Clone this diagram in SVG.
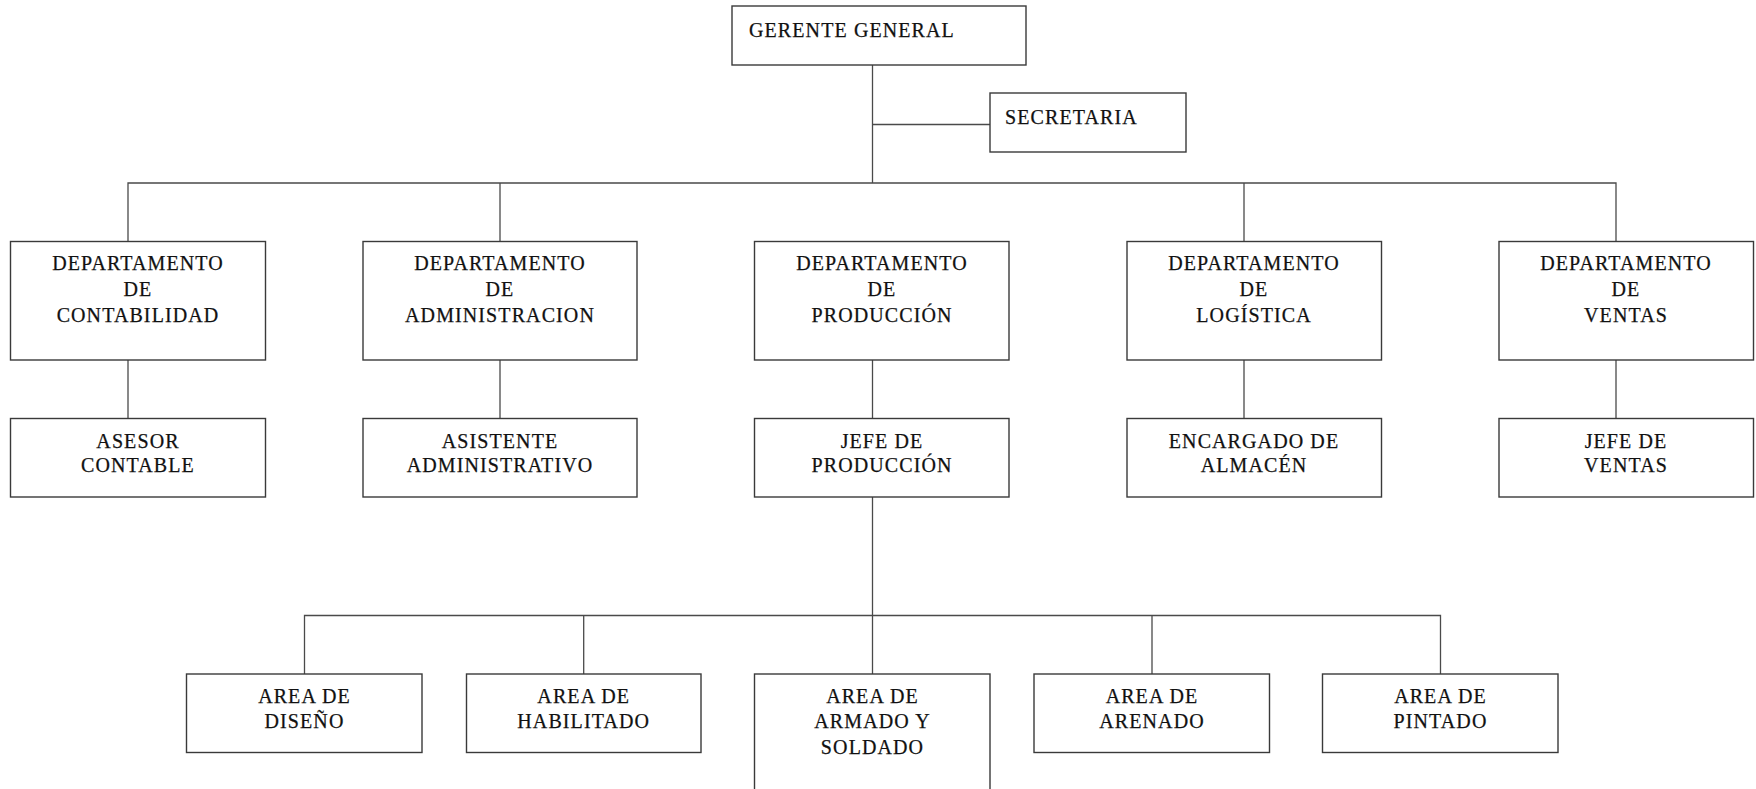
<svg xmlns="http://www.w3.org/2000/svg" width="1756" height="789" viewBox="0 0 1756 789">
  <style>
    .box { fill: #ffffff; stroke: #3a3a3a; stroke-width: 1.4; }
    .wire { fill: none; stroke: #4a4a4a; stroke-width: 1.3; }
    text { font-family: "Liberation Serif", "Times New Roman", serif; font-size: 20px; fill: #111111; stroke: #111111; stroke-width: 0.25; letter-spacing: 1.1px; }
    .c { text-anchor: middle; }
  </style>
  <rect width="1756" height="789" fill="#ffffff"/>

  <!-- connectors -->
  <g id="connectors" class="wire">
    <path d="M872.5 65 V183"/>
    <path d="M872.5 124.5 H990"/>
    <path d="M128 241.5 V183 H1616 V241.5"/>
    <path d="M500 183 V241.5"/>
    <path d="M1244 183 V241.5"/>
    <path d="M128 360 V418.5"/>
    <path d="M500 360 V418.5"/>
    <path d="M872.5 360 V418.5"/>
    <path d="M1244 360 V418.5"/>
    <path d="M1616 360 V418.5"/>
    <path d="M872.5 497 V674"/>
    <path d="M304.5 674 V615.5 H1440.5 V674"/>
    <path d="M583.7 615.5 V674"/>
    <path d="M1152 615.5 V674"/>
  </g>

  <!-- top level -->
  <g id="gerente">
    <rect class="box" x="732" y="6" width="294" height="59"/>
    <text x="749" y="37">GERENTE GENERAL</text>
  </g>
  <g id="secretaria">
    <rect class="box" x="990" y="93" width="196" height="59"/>
    <text x="1005" y="124">SECRETARIA</text>
  </g>

  <!-- departments -->
  <g id="dep-contabilidad">
    <rect class="box" x="10.5" y="241.5" width="255" height="118.5"/>
    <text class="c" x="138" y="270">DEPARTAMENTO</text>
    <text class="c" x="138" y="295.7">DE</text>
    <text class="c" x="138" y="321.7">CONTABILIDAD</text>
  </g>
  <g id="dep-administracion">
    <rect class="box" x="363" y="241.5" width="274" height="118.5"/>
    <text class="c" x="500" y="270">DEPARTAMENTO</text>
    <text class="c" x="500" y="295.7">DE</text>
    <text class="c" x="500" y="321.7">ADMINISTRACION</text>
  </g>
  <g id="dep-produccion">
    <rect class="box" x="754.5" y="241.5" width="254.5" height="118.5"/>
    <text class="c" x="882" y="270">DEPARTAMENTO</text>
    <text class="c" x="882" y="295.7">DE</text>
    <text class="c" x="882" y="321.7">PRODUCCIÓN</text>
  </g>
  <g id="dep-logistica">
    <rect class="box" x="1127" y="241.5" width="254.5" height="118.5"/>
    <text class="c" x="1254" y="270">DEPARTAMENTO</text>
    <text class="c" x="1254" y="295.7">DE</text>
    <text class="c" x="1254" y="321.7">LOGÍSTICA</text>
  </g>
  <g id="dep-ventas">
    <rect class="box" x="1499" y="241.5" width="254.5" height="118.5"/>
    <text class="c" x="1626" y="270">DEPARTAMENTO</text>
    <text class="c" x="1626" y="295.7">DE</text>
    <text class="c" x="1626" y="321.7">VENTAS</text>
  </g>

  <!-- second level -->
  <g id="asesor-contable">
    <rect class="box" x="10.5" y="418.5" width="255" height="78.5"/>
    <text class="c" x="138" y="447.7">ASESOR</text>
    <text class="c" x="138" y="472.3">CONTABLE</text>
  </g>
  <g id="asistente-administrativo">
    <rect class="box" x="363" y="418.5" width="274" height="78.5"/>
    <text class="c" x="500" y="447.7">ASISTENTE</text>
    <text class="c" x="500" y="472.3">ADMINISTRATIVO</text>
  </g>
  <g id="jefe-produccion">
    <rect class="box" x="754.5" y="418.5" width="254.5" height="78.5"/>
    <text class="c" x="882" y="447.7">JEFE DE</text>
    <text class="c" x="882" y="472.3">PRODUCCIÓN</text>
  </g>
  <g id="encargado-almacen">
    <rect class="box" x="1127" y="418.5" width="254.5" height="78.5"/>
    <text class="c" x="1254" y="447.7">ENCARGADO DE</text>
    <text class="c" x="1254" y="472.3">ALMACÉN</text>
  </g>
  <g id="jefe-ventas">
    <rect class="box" x="1499" y="418.5" width="254.5" height="78.5"/>
    <text class="c" x="1626" y="447.7">JEFE DE</text>
    <text class="c" x="1626" y="472.3">VENTAS</text>
  </g>

  <!-- production areas -->
  <g id="area-diseno">
    <rect class="box" x="186.5" y="674" width="235.5" height="78.5"/>
    <text class="c" x="304.5" y="702.7">AREA DE</text>
    <text class="c" x="304.5" y="728.3">DISEÑO</text>
  </g>
  <g id="area-habilitado">
    <rect class="box" x="466.5" y="674" width="234.5" height="78.5"/>
    <text class="c" x="583.7" y="702.7">AREA DE</text>
    <text class="c" x="583.7" y="728.3">HABILITADO</text>
  </g>
  <g id="area-armado-soldado">
    <rect class="box" x="754.5" y="674" width="235.5" height="130"/>
    <text class="c" x="872.5" y="702.7">AREA DE</text>
    <text class="c" x="872.5" y="728.3">ARMADO Y</text>
    <text class="c" x="872.5" y="753.5">SOLDADO</text>
  </g>
  <g id="area-arenado">
    <rect class="box" x="1034" y="674" width="235.5" height="78.5"/>
    <text class="c" x="1152" y="702.7">AREA DE</text>
    <text class="c" x="1152" y="728.3">ARENADO</text>
  </g>
  <g id="area-pintado">
    <rect class="box" x="1322.5" y="674" width="235.5" height="78.5"/>
    <text class="c" x="1440.5" y="702.7">AREA DE</text>
    <text class="c" x="1440.5" y="728.3">PINTADO</text>
  </g>
</svg>
